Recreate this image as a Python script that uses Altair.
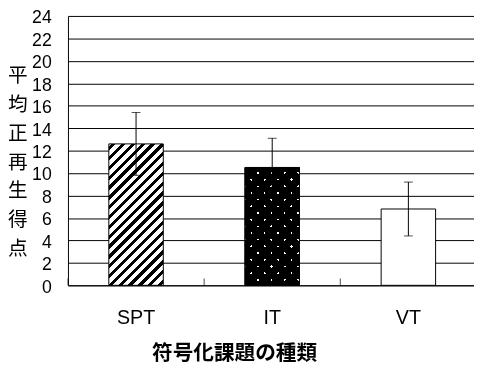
import altair as alt
import pandas as pd

# ---- data ----
categories = ["SPT", "IT", "VT"]
means = [12.6, 10.5, 6.8]
errors = [2.8, 2.6, 2.4]
y_ticks = list(range(0, 25, 2))
x_title = "符号化課題の種類"
y_title = "平均正再生得点"

# ---- layout / style ----
W, H = 413, 274
Y_MAX = 24
RANGE_W = 415.5
P_IN, P_OUT = 0.6, 0.3
step = RANGE_W / (len(categories) - P_IN + 2 * P_OUT)
bw = step * (1 - P_IN)
LATIN = "Liberation Sans"
CJK = "Noto Sans CJK JP"

df = pd.DataFrame({"cat": categories, "mean": means, "err": errors})
df["lo"] = df["mean"] - df["err"]
df["hi"] = df["mean"] + df["err"]


def stripes(w, h, period, width, col_on, col_off, rising=True, phase=3.0):
    """Linear gradient with hard stops giving 45-degree stripes on a w x h box."""
    L = w + h
    k = L / (w * w + h * h)
    if rising:  # '/'
        x1, y1, x2, y2 = 0, 0, k * w, k * h
    else:       # '\'
        x1, y1, x2, y2 = 0, 1, k * w, 1 - k * h
    stops = [{"offset": 0, "color": col_off}]
    s = phase
    while s < L:
        a = s / L
        b = min((s + width) / L, 1.0)
        stops += [
            {"offset": round(a, 5), "color": col_off},
            {"offset": round(a, 5), "color": col_on},
            {"offset": round(b, 5), "color": col_on},
            {"offset": round(b, 5), "color": col_off},
        ]
        s += period
    stops.append({"offset": 1, "color": col_off})
    return {"gradient": "linear", "x1": x1, "y1": y1, "x2": x2, "y2": y2, "stops": stops}


def bar_h(cat):
    return means[categories.index(cat)] * H / Y_MAX


grad_spt = stripes(bw, bar_h("SPT"), 10.0, 4.3, "black", "white", rising=True)
grad_it_a = stripes(bw, bar_h("IT"), 13.6, 2.4, "white", "black", rising=True, phase=4)
grad_it_b = stripes(bw, bar_h("IT"), 13.6, 2.4, "white", "black", rising=False, phase=4)

base = alt.Chart(df)

x_axis = alt.Axis(
    title=x_title,
    labelFont=LATIN,
    labelFontSize=20,
    labelColor="black",
    labelAngle=0,
    labelPadding=23,
    ticks=False,
    tickSize=0,
    domain=True,
    domainColor="black",
    titleFont=CJK,
    titleFontSize=21,
    titleFontWeight="bold",
    titleColor="black",
    titleX=169,
    titleY=58,
    titleAlign="center",
    titleBaseline="top",
)
y_axis = alt.Axis(
    values=y_ticks,
    labelOverlap=False,
    grid=True,
    gridColor="black",
    gridOpacity=1,
    gridWidth=1,
    domain=True,
    domainColor="black",
    ticks=False,
    tickSize=0,
    labelFont=LATIN,
    labelFontSize=18,
    labelColor="black",
    labelPadding=17,
    labelOffset=2,
    title=list(y_title),
    titleAngle=0,
    titleFont=CJK,
    titleFontSize=20,
    titleFontWeight="normal",
    titleColor="black",
    titleLineHeight=29.4,
    titleX=-51.5,
    titleY=60.5,
    titleAlign="center",
    titleBaseline="middle",
)
x_scale = alt.Scale(range=[0, RANGE_W], paddingInner=P_IN, paddingOuter=P_OUT)
y_scale = alt.Scale(domain=[0, Y_MAX], nice=False)


def X(**kw):
    return alt.X("cat:N", sort=categories, scale=x_scale, axis=x_axis, **kw)


def Y(field):
    return alt.Y(f"{field}:Q", scale=y_scale, axis=y_axis)


spt = base.transform_filter(alt.datum.cat == "SPT").mark_bar(
    fill=grad_spt, stroke="black", strokeWidth=1
).encode(x=X(), y=Y("mean"))
it_a = base.transform_filter(alt.datum.cat == "IT").mark_bar(
    fill=grad_it_a, stroke="black", strokeWidth=1
).encode(x=X(), y=Y("mean"))
it_b = base.transform_filter(alt.datum.cat == "IT").mark_bar(
    fill=grad_it_b, stroke="black", strokeWidth=1, blend="multiply"
).encode(x=X(), y=Y("mean"))
vt = base.transform_filter(alt.datum.cat == "VT").mark_bar(
    fill="white", stroke="black", strokeWidth=1
).encode(x=X(), y=Y("mean"))

err_rule = base.mark_rule(color="black", strokeWidth=1).encode(
    x=X(), y=Y("lo"), y2="hi:Q"
)
cap_hi = base.mark_tick(orient="horizontal", size=9, thickness=1, color="black").encode(
    x=X(), y=Y("hi")
)
cap_lo = base.mark_tick(orient="horizontal", size=9, thickness=1, color="black").encode(
    x=X(), y=Y("lo")
)
# small inward ticks on the baseline, half-way between categories
bound_ticks = base.mark_tick(
    orient="vertical", size=7, thickness=1, color="black",
    yOffset=-3.5, xOffset=-P_IN * step / 2,
).encode(x=X(bandPosition=0), y=alt.datum(0, scale=y_scale, axis=y_axis))

chart = (
    alt.layer(spt, it_a, it_b, vt, err_rule, cap_hi, cap_lo, bound_ticks)
    .properties(
        width=W,
        height=H,
        autosize=alt.AutoSizeParams(type="none"),
        padding={"left": 61, "top": 5, "right": 0, "bottom": 80},
        background="white",
    )
    .configure_view(strokeWidth=0)
)

chart.save("out.html", embed_options={"renderer": "svg", "actions": False})
